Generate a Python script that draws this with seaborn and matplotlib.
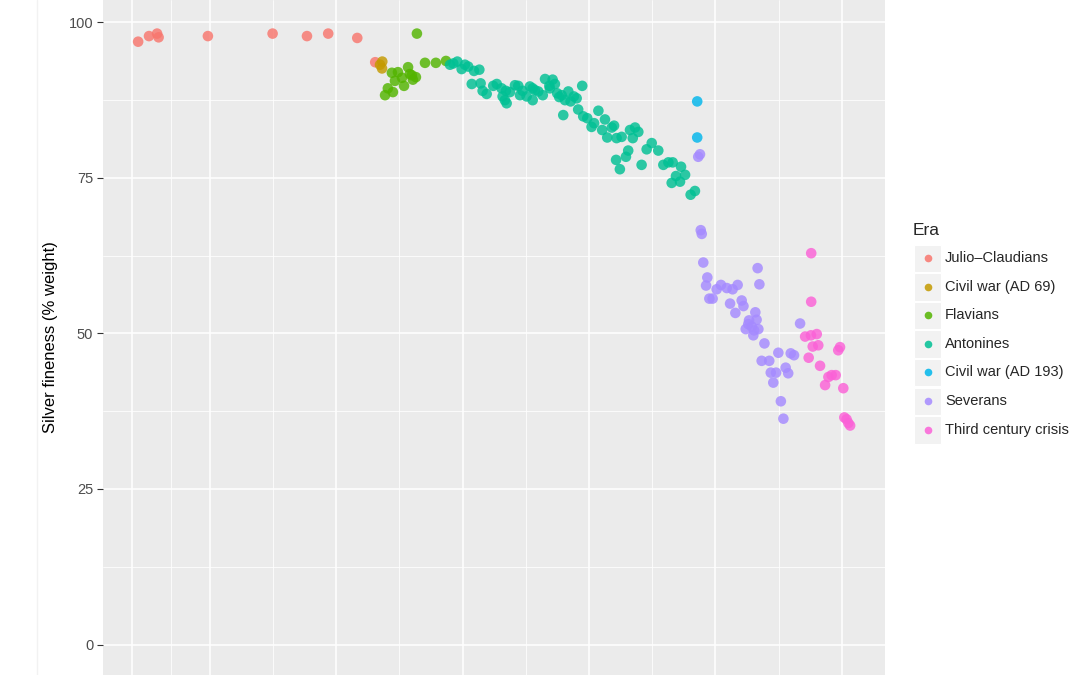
import pandas as pd
import numpy as np
import matplotlib
matplotlib.use('Agg')
import matplotlib.pyplot as plt
import seaborn as sns
from matplotlib.patches import Rectangle
from matplotlib.lines import Line2D

# Silver fineness of the Roman denarius, by year of issue
eras = ['Julio\u2013Claudians', 'Civil war (AD 69)', 'Flavians', 'Antonines',
        'Civil war (AD 193)', 'Severans', 'Third century crisis']
era_colors = ['#F8766D', '#C49A00', '#53B400', '#00C094', '#00B6EB', '#A58AFF', '#FB61D7']

julio_year = [-28.4, -24.1, -20.9, -20.3, -0.8, 24.8, 38.4, 46.8, 58.3, 65.4]
julio_fine = [96.9, 97.8, 98.2, 97.6, 97.8, 98.2, 97.8, 98.2, 97.5, 93.6]

civil69_year = [68.2, 67.3, 68.1]
civil69_fine = [93.7, 93.2, 92.6]

flavian_year = [81.9, 72.0, 74.4, 78.4, 79.1, 73.2, 76.0, 80.3, 81.5, 76.8,
                70.4, 69.3, 72.4, 85.1, 89.4, 93.4, 79.9]
flavian_fine = [98.2, 91.9, 92.0, 92.8, 91.7, 90.6, 91.1, 90.8, 91.2, 89.8,
                89.4, 88.3, 88.8, 93.5, 93.5, 93.8, 91.5]

antonine_year = [95.0, 96.3, 97.9, 99.6, 100.9, 102.2, 104.5, 106.6, 103.6, 107.1,
                 107.9, 109.5, 112.1, 113.5, 115.4, 117.1, 115.8, 116.7, 117.4, 118.7,
                 120.7, 122.0, 122.7, 123.7, 125.3, 126.6, 127.7, 128.6, 129.9, 131.7,
                 127.7, 132.6, 134.3, 135.6, 136.5, 134.5, 137.4, 138.2, 139.2, 140.5,
                 141.8, 142.7, 144.0, 145.1, 147.3, 139.8, 145.7, 147.7, 149.3, 151.0,
                 152.0, 153.7, 155.2, 156.3, 159.0, 159.9, 157.2, 160.9, 162.9, 164.6,
                 165.5, 166.2, 167.3, 168.2, 169.5, 160.7, 162.2, 170.8, 172.8, 174.8,
                 177.4, 179.4, 181.4, 183.1, 184.4, 186.4, 188.0, 182.7, 186.0, 190.2,
                 191.9]
antonine_fine = [93.2, 93.4, 93.7, 92.5, 93.2, 92.9, 92.2, 92.4, 90.1, 90.2,
                 89.0, 88.5, 89.8, 90.1, 89.4, 89.0, 88.1, 87.5, 87.0, 88.8,
                 89.9, 89.8, 88.3, 89.0, 88.1, 89.7, 89.4, 89.1, 88.9, 88.3,
                 87.5, 90.9, 89.8, 90.8, 90.1, 89.4, 88.6, 88.0, 88.3, 87.5,
                 88.9, 87.3, 88.1, 87.8, 89.8, 85.1, 86.0, 84.9, 84.6, 83.2,
                 83.8, 85.8, 82.7, 84.4, 83.1, 83.4, 81.5, 81.4, 81.6, 78.4,
                 79.4, 82.7, 81.4, 83.1, 82.4, 77.9, 76.4, 77.1, 79.6, 80.6,
                 79.4, 77.1, 77.5, 77.5, 75.3, 76.8, 75.5, 74.2, 74.4, 72.3,
                 72.9]

civil193_year = [192.8, 192.8]
civil193_fine = [87.3, 81.5]

severan_year = [193.2, 193.9, 194.2, 194.6, 195.2, 196.8, 196.3, 197.6, 198.9, 200.5,
                202.2, 204.5, 206.8, 208.8, 205.8, 207.9, 210.4, 211.1, 216.7, 217.4,
                215.8, 216.3, 213.0, 212.0, 214.4, 215.3, 217.0, 215.0, 219.4, 218.3,
                221.3, 224.9, 229.8, 231.1, 221.9, 224.0, 227.8, 228.8, 222.9, 225.9,
                226.9, 233.5, 213.3]
severan_fine = [78.4, 78.8, 66.6, 66.0, 61.4, 59.0, 57.7, 55.6, 55.6, 57.1,
                57.8, 57.3, 57.1, 57.8, 54.8, 53.3, 55.3, 54.4, 60.5, 57.9,
                53.4, 52.2, 51.5, 50.7, 51.1, 50.5, 50.7, 49.7, 48.4, 45.6,
                45.6, 46.9, 46.8, 46.5, 43.7, 43.7, 44.5, 43.6, 42.1, 39.1,
                36.3, 51.6, 52.1]

crisis_year = [237.9, 237.9, 235.5, 237.8, 240.1, 238.5, 240.7, 236.9, 241.4, 244.7,
               246.0, 247.6, 243.4, 248.6, 249.3, 250.6, 251.0, 251.9, 252.6, 253.3]
crisis_fine = [62.9, 55.1, 49.5, 49.7, 49.9, 47.9, 48.1, 46.1, 44.8, 43.0,
               43.3, 43.3, 41.7, 47.3, 47.8, 41.2, 36.5, 36.2, 35.6, 35.2]

x_major = [-31, 0, 50, 100, 150, 200, 250]
x_minor = [-15.5, 25, 75, 125, 175, 225]
y_major = [0, 25, 50, 75, 100]
y_minor = [12.5, 37.5, 62.5, 87.5]

groups = [(julio_year, julio_fine), (civil69_year, civil69_fine),
          (flavian_year, flavian_fine), (antonine_year, antonine_fine),
          (civil193_year, civil193_fine), (severan_year, severan_fine),
          (crisis_year, crisis_fine)]
frames = []
for era, (yr, fn) in zip(eras, groups):
    frames.append(pd.DataFrame({'Year': yr, 'Fineness': fn, 'Era': era}))
df = pd.concat(frames, ignore_index=True)

sns.set_theme(style='darkgrid')
plt.rcParams['font.family'] = ['Liberation Sans', 'DejaVu Sans']

fig = plt.figure(figsize=(10.8, 6.75), dpi=100)
ax = fig.add_axes([103 / 1080, 0, 782 / 1080, 1])
ax.set_facecolor('#EBEBEB')

sns.scatterplot(data=df, x='Year', y='Fineness', hue='Era', hue_order=eras,
                palette=era_colors, s=58, edgecolor='none', alpha=0.82,
                legend=False, ax=ax, zorder=3)

ax.set_xlim(-42.3, 267.1)
ax.set_ylim(-4.9, 103.6)
ax.set_xticks(x_major)
ax.set_xticks(x_minor, minor=True)
ax.set_yticks(y_major)
ax.set_yticks(y_minor, minor=True)
ax.grid(which='major', color='white', linewidth=1.1)
ax.grid(which='minor', color='white', linewidth=0.55)
ax.set_axisbelow(True)
for sp in ax.spines.values():
    sp.set_visible(False)
ax.tick_params(axis='x', which='both', length=0, labelbottom=False)
ax.tick_params(axis='y', which='major', length=4, width=0.8, color='#333333',
               labelsize=10.5, labelcolor='#4D4D4D', pad=3, left=True)
ax.tick_params(axis='y', which='minor', length=0)
ax.set_xlabel('')
ax.set_ylabel('Silver fineness (% weight)', fontsize=12, color='black', labelpad=8)

# faint frame edge on the left of the original image
fig.add_artist(Line2D([37 / 1080, 37 / 1080], [0, 1], color='#F2F2F2', lw=1,
                      transform=fig.transFigure))

# ggplot style legend
W, H = 1080, 675
fig.text(913 / W, 1 - 230 / H, 'Era', fontsize=12.5, va='center', ha='left')
for i, (era, col) in enumerate(zip(eras, era_colors)):
    yc = 258 + i * 28.6
    fig.add_artist(Rectangle((914 / W, 1 - (yc + 14) / H), 27 / W, 27.5 / H,
                             transform=fig.transFigure, facecolor='#F2F2F2',
                             edgecolor='white', lw=0.8))
    fig.add_artist(Line2D([927.5 / W], [1 - yc / H], marker='o', markersize=5.5,
                          color=col, alpha=0.85, markeredgewidth=0,
                          transform=fig.transFigure))
    fig.text(945 / W, 1 - yc / H, era, fontsize=10.5, va='center', ha='left')

fig.savefig('out.png', dpi=100)
